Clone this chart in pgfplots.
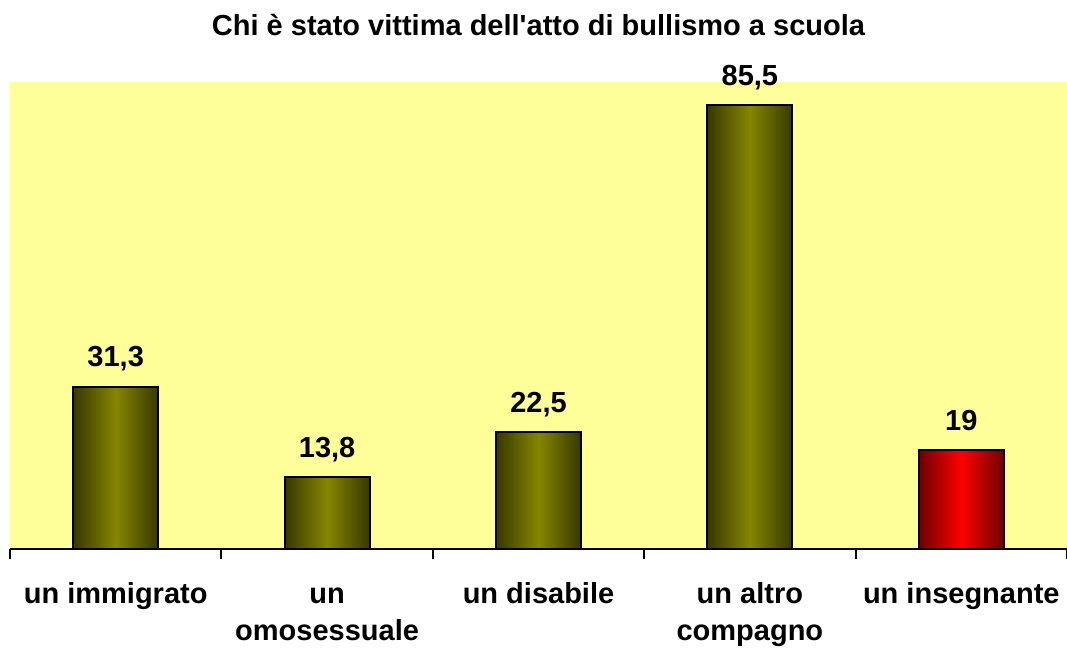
\documentclass[border=0pt]{standalone}
\usepackage{pgfplots}
\pgfplotsset{compat=1.18}
\usepackage{fontspec}
\setmainfont{Liberation Sans}
\definecolor{bg}{HTML}{FFFF99}
\definecolor{olivedark}{HTML}{383800}
\definecolor{olivelight}{HTML}{868600}
\definecolor{reddark}{HTML}{6E0000}
\definecolor{redlight}{HTML}{FF0000}
\begin{document}
\begin{tikzpicture}
\useasboundingbox (-5pt,-49.5pt) rectangle (528.5pt,274.5pt);
\begin{axis}[
  at={(0,0)}, anchor=south west,
  width=528.5pt, height=233.5pt, scale only axis,
  xmin=-0.5, xmax=4.5, ymin=0, ymax=90,
  axis x line*=bottom, axis y line=none,
  axis background/.style={fill=bg},
  axis line style={line width=1pt, black},
  xtick={0,1,2,3,4},
  xticklabels={\strut un immigrato, \strut un\\omosessuale, \strut un disabile, \strut un altro\\compagno, \strut un insegnante},
  major tick length=0pt,
  minor xtick={-0.5,0.5,1.5,2.5,3.5,4.5},
  minor tick length=5pt,
  tick align=outside,
  minor tick style={line width=1pt, black},
  xticklabel style={anchor=north, align=center, inner sep=0pt, yshift=-14pt,
    font=\bfseries\fontsize{14.5}{18.5}\selectfont},
  ytick=\empty,
  ybar, bar width=42.5pt,
  /pgf/number format/assume math mode=true,
  /pgf/number format/use comma,
  nodes near coords,
  every node near coord/.append style={anchor=base, yshift=10pt, inner sep=0pt,
    font=\bfseries\fontsize{14.5}{17}\selectfont, black},
  clip=false,
  olivebar/.style={bar shift=0pt, draw=black, line width=1pt,
    left color=olivedark, right color=olivedark, middle color=olivelight},
  redbar/.style={bar shift=0pt, draw=black, line width=1pt,
    left color=reddark, right color=reddark, middle color=redlight},
]
\addplot[olivebar] coordinates {(0,31.3)};
\addplot[olivebar] coordinates {(1,13.8)};
\addplot[olivebar] coordinates {(2,22.5)};
\addplot[olivebar] coordinates {(3,85.5)};
\addplot[redbar] coordinates {(4,19)};
\end{axis}
\node[anchor=base, font=\bfseries\fontsize{14.5}{17}\selectfont] at (264.25pt,256.5pt)
  {Chi è stato vittima dell\textquotesingle atto di bullismo a scuola};
\end{tikzpicture}
\end{document}
